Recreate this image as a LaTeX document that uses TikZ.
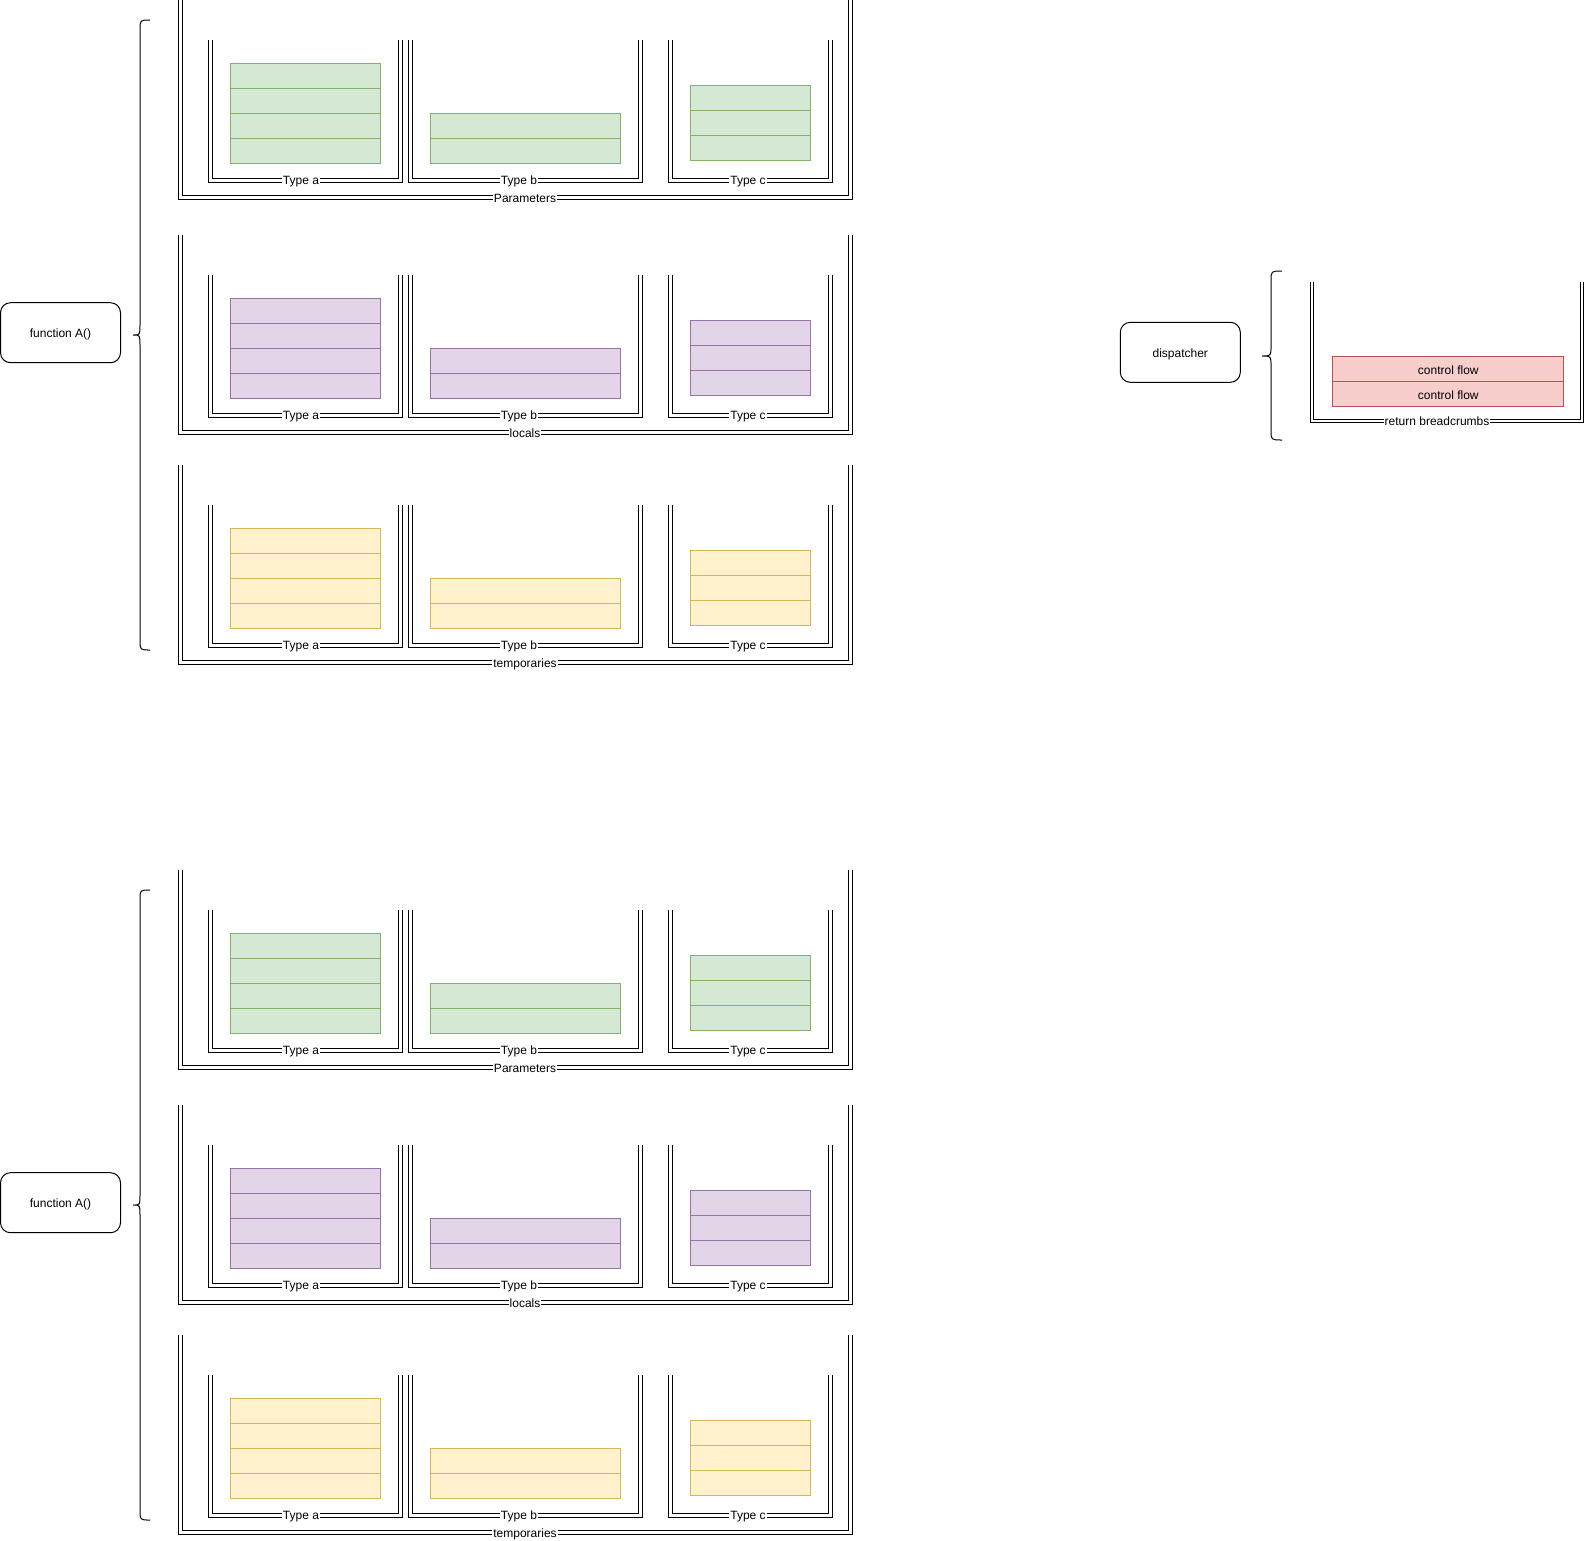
\documentclass[tikz,border=0pt]{standalone}
\usepackage{fontspec}
\setmainfont{Liberation Sans}

\definecolor{greenfill}{HTML}{D5E8D4}
\definecolor{greenline}{HTML}{82B366}
\definecolor{purplefill}{HTML}{E1D5E7}
\definecolor{purpleline}{HTML}{9673A6}
\definecolor{yellowfill}{HTML}{FFF2CC}
\definecolor{yellowline}{HTML}{D6B656}
\definecolor{redfill}{HTML}{F8CECC}
\definecolor{redline}{HTML}{B85450}

\tikzset{
  txt/.style={font=\fontsize{12}{14}\selectfont, text height=10.6pt, text depth=1pt},
  tray/.style={draw, line width=1pt, double, double distance=3pt},
  traylabel/.style={txt, fill=white, inner sep=1pt},
  slot/.style={txt, draw=#1line, fill=#1fill, line width=1pt, minimum height=25pt, inner sep=0pt, anchor=north west},
  func/.style={txt, draw, rounded corners=10pt, line width=1pt, minimum width=120pt, minimum height=60pt},
  curly/.style={draw, line width=1pt},
}

\begin{document}
\begin{tikzpicture}[x=1pt, y=-1pt]
\useasboundingbox (0,0) rectangle (1586,1540);

% two copies of the same frame
\foreach \copy/\cy in {one/0, two/870} {
\begin{scope}[shift={(0,\cy)}]
\node[func] (\copy-fn) at (60.5,332.7) {function A()};
\draw[curly] (150,20) .. controls (140,20) .. (140,30) -- (140,325)
  .. controls (140,335) .. (133,335) .. controls (140,335) .. (140,345)
  -- (140,640) .. controls (140,650) .. (150,650);
\foreach \part/\ry/\tint/\lbl in {par/0/green/Parameters, loc/235/purple/locals, tmp/465/yellow/temporaries} {
\begin{scope}[shift={(0,\ry)}]
\draw[tray] (180,0) |- (850,197.5) -- (850,0);
\node[traylabel] (\copy-\part) at (525,197.5) {\lbl};
\draw[tray] (210,40) |- (400,180) -- (400,40);
\draw[tray] (410,40) |- (640,180) -- (640,40);
\draw[tray] (670,40) |- (830,180) -- (830,40);
\node[traylabel] (\copy-\part-a) at (301,180) {Type a};
\node[traylabel] (\copy-\part-b) at (519,180) {Type b};
\node[traylabel] (\copy-\part-c) at (748,180) {Type c};
\foreach \k in {0,...,3}
  \node[slot=\tint, minimum width=150pt] (\copy-\part-a\k) at (230,62.5+25*\k) {};
\foreach \k in {0,1}
  \node[slot=\tint, minimum width=190pt] (\copy-\part-b\k) at (430,112.5+25*\k) {};
\foreach \k in {0,...,2}
  \node[slot=\tint, minimum width=120pt] (\copy-\part-c\k) at (690,85+25*\k) {};
\end{scope}
}
\end{scope}
}

% dispatcher
\node[func] (disp) at (1180.3,352.3) {dispatcher};
\draw[curly] (1282,271) .. controls (1271,271) .. (1271,281) -- (1271,346)
  .. controls (1271,356) .. (1262,356) .. controls (1271,356) .. (1271,366)
  -- (1271,430) .. controls (1271,440) .. (1282,440);
\draw[tray, double distance=2pt] (1312,281.7) |- (1581.7,420.8) -- (1581.7,281.7);
\node[traylabel] (crumbs) at (1437,420.8) {return breadcrumbs};
\node[slot=red, minimum width=231pt] (flow1) at (1332.3,356.3) {control flow};
\node[slot=red, minimum width=231pt] (flow2) at (1332.3,381.3) {control flow};
\end{tikzpicture}
\end{document}
